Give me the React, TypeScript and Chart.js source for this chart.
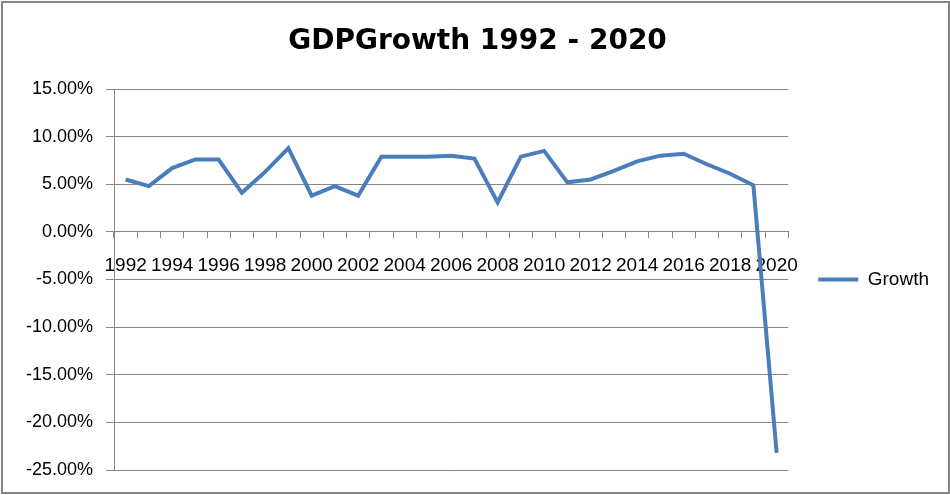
import React, { useEffect, useRef } from "react";
import { Chart, registerables } from "chart.js";

Chart.register(...registerables);

const years: string[] = [
  "1992", "1993", "1994", "1995", "1996", "1997", "1998", "1999", "2000", "2001",
  "2002", "2003", "2004", "2005", "2006", "2007", "2008", "2009", "2010", "2011",
  "2012", "2013", "2014", "2015", "2016", "2017", "2018", "2019", "2020",
];

const growth: number[] = [
  5.5, 4.8, 6.7, 7.6, 7.6, 4.1, 6.3, 8.8, 3.8, 4.8,
  3.8, 7.9, 7.9, 7.9, 8.0, 7.7, 3.1, 7.9, 8.5, 5.2,
  5.5, 6.4, 7.4, 8.0, 8.2, 7.1, 6.1, 4.9, -23.2,
];

const yMin = -25;
const yMax = 15;
const yStep = 5;

const GRAY = "#868686";
const FONT = "'Liberation Sans', Arial, sans-serif";

const borderPlugin = {
  id: "outerBorder",
  beforeDraw(chart: any) {
    const ctx = chart.ctx;
    ctx.save();
    ctx.fillStyle = "#ffffff";
    ctx.fillRect(0, 0, chart.width, chart.height);
    ctx.restore();
  },
  afterDraw(chart: any) {
    const ctx = chart.ctx;
    ctx.save();
    ctx.strokeStyle = GRAY;
    ctx.lineWidth = 2;
    ctx.strokeRect(2, 2, 947, 491);
    ctx.restore();
  },
};

export default function App() {
  const ref = useRef<HTMLCanvasElement | null>(null);

  useEffect(() => {
    if (!ref.current) return;
    const chart = new Chart(ref.current, {
      type: "line",
      data: {
        labels: years,
        datasets: [
          {
            label: "Growth",
            data: growth,
            borderColor: "#4A7EBB",
            backgroundColor: "#4A7EBB",
            borderWidth: 4,
            pointRadius: 0,
            tension: 0,
            fill: false,
          },
        ],
      },
      options: {
        animation: false,
        responsive: false,
        maintainAspectRatio: false,
        layout: { padding: { top: 0, left: 16, right: 11, bottom: 25 } },
        plugins: {
          title: {
            display: true,
            text: "GDPGrowth 1992 - 2020",
            color: "#000000",
            font: { family: "'DejaVu Sans', sans-serif", size: 28, weight: "bold" },
            padding: { top: 25, bottom: 30.4 },
          },
          legend: {
            display: true,
            position: "right",
            fullSize: false,
            labels: {
              usePointStyle: true,
              pointStyle: "line",
              pointStyleWidth: 40,
              padding: 30,
              color: "#000000",
              font: { family: FONT, size: 19 },
            },
          },
          tooltip: { enabled: false },
        },
        scales: {
          x: {
            type: "category",
            position: { y: 0 } as any,
            offset: true,
            afterFit: (s: any) => {
              s.height = 0;
            },
            grid: {
              display: true,
              drawOnChartArea: false,
              drawTicks: true,
              tickLength: 6,
              offset: true,
              color: GRAY,
            },
            border: { display: true, color: GRAY, width: 1 },
            ticks: {
              autoSkip: false,
              maxRotation: 0,
              minRotation: 0,
              padding: 16,
              color: "#000000",
              font: { family: FONT, size: 19 },
              callback: (_v: any, i: number) => (i % 2 === 0 ? years[i] : ""),
            },
          },
          y: {
            min: yMin,
            max: yMax,
            afterFit: (s: any) => {
              s.width = 98;
            },
            grid: {
              color: GRAY,
              lineWidth: 1,
              tickLength: 8,
              drawTicks: true,
            },
            border: { display: true, color: GRAY, width: 1 },
            ticks: {
              stepSize: yStep,
              padding: 13,
              color: "#000000",
              font: { family: FONT, size: 18 },
              callback: (v: any) => Number(v).toFixed(2) + "%",
            },
          },
        },
      },
      plugins: [borderPlugin],
    });
    return () => chart.destroy();
  }, []);

  return (
    <div style={{ position: "absolute", left: 0, top: 0, width: 950, height: 495 }}>
      <canvas ref={ref} width={950} height={495} />
    </div>
  );
}
